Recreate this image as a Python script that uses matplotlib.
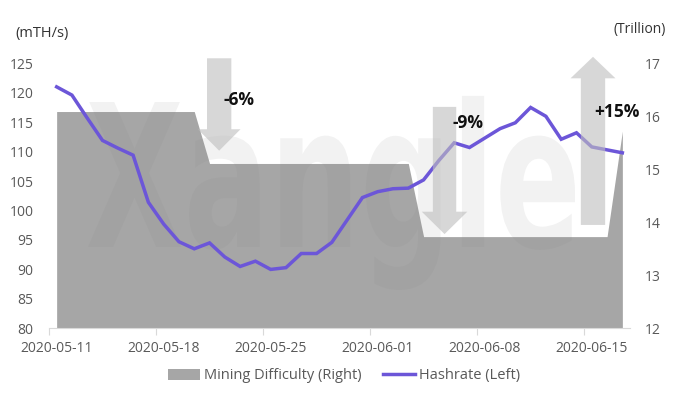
import matplotlib
matplotlib.use('Agg')
import matplotlib.pyplot as plt
from matplotlib.patches import Polygon, PathPatch, Patch
from matplotlib.lines import Line2D
from matplotlib.textpath import TextPath
from matplotlib.font_manager import FontProperties
from matplotlib.transforms import Affine2D, IdentityTransform

# Datos (lecturas del gráfico)
etiquetas_fecha = ['2020-05-11', '2020-05-18', '2020-05-25', '2020-06-01', '2020-06-08', '2020-06-15']
hashrate = [121.0, 119.6, 115.7, 111.9, 110.6, 109.4, 101.4, 97.7, 94.7, 93.5,
            94.5, 92.1, 90.5, 91.4, 90.0, 90.3, 92.7, 92.7, 94.6, 98.4,
            102.2, 103.2, 103.7, 103.8, 105.2, 108.5, 111.5, 110.7, 112.3, 113.9,
            114.9, 117.5, 116.0, 112.1, 113.2, 110.8, 110.3, 109.8]
dificultad = [16.09, 16.09, 16.09, 16.09, 16.09, 16.09, 16.09, 16.09, 16.09, 16.09,
              15.11, 15.11, 15.11, 15.11, 15.11, 15.11, 15.11, 15.11, 15.11, 15.11,
              15.11, 15.11, 15.11, 15.11, 13.73, 13.73, 13.73, 13.73, 13.73, 13.73,
              13.73, 13.73, 13.73, 13.73, 13.73, 13.73, 13.73, 15.72]
ticks_izq = [80, 85, 90, 95, 100, 105, 110, 115, 120, 125]
ticks_der = [12, 13, 14, 15, 16, 17]

gris_texto = '#595959'
morado = '#6c56d8'
gris_area = '#a6a6a6'
fuente = 'Open Sans'

plt.rcParams['font.family'] = [fuente, 'DejaVu Sans']

fig = plt.figure(figsize=(6.8, 3.94), dpi=100)
ax = fig.add_axes([49 / 680, 1 - 328.3 / 394, (630 - 49) / 680, (328.3 - 63.3) / 394])
ax2 = ax.twinx()

x = [i + 0.5 for i in range(len(hashrate))]

# Área de dificultad (eje derecho)
ax2.fill_between(x, 12, dificultad, color=gris_area, linewidth=0, zorder=1)
ax2.set_ylim(12, 17)
ax2.set_yticks(ticks_der)

# La línea por encima del área
ax.set_zorder(ax2.get_zorder() + 1)
ax.patch.set_visible(False)

ax.plot(x, hashrate, color=morado, lw=2.5, zorder=5, solid_joinstyle='miter')
ax.set_ylim(80, 125)
ax.set_xlim(0, len(hashrate))
ax.set_yticks(ticks_izq)

# Marca de agua
fp = FontProperties(family='DejaVu Sans', weight='bold')
tp = TextPath((0, 0), 'Xangle', prop=fp, size=100)
cap = TextPath((0, 0), 'X', prop=fp, size=100).get_extents()
ext = tp.get_extents()
sx = (575 - 88) / ext.width
sy = 145 / cap.height
tr = Affine2D().translate(-ext.x0, 0).scale(sx, sy).translate(88, 394 - 247)
marca = PathPatch(tr.transform_path(tp), facecolor='#808080', edgecolor='none',
                  alpha=0.1, transform=IdentityTransform(), zorder=2, clip_on=False)
ax.add_artist(marca)

# Flechas
def flecha(xc, ancho, ancho_cabeza, y_cola, y_base, y_punta):
    pts = [(xc - ancho / 2, y_cola), (xc + ancho / 2, y_cola), (xc + ancho / 2, y_base),
           (xc + ancho_cabeza / 2, y_base), (xc, y_punta), (xc - ancho_cabeza / 2, y_base),
           (xc - ancho / 2, y_base)]
    p = Polygon(pts, closed=True, facecolor='#bfbfbf', edgecolor='none', alpha=0.62,
                zorder=6, clip_on=False)
    ax.add_patch(p)

flecha(11.13, 1.59, 2.79, 125.85, 113.8, 110.16)
flecha(25.87, 1.53, 2.98, 117.6, 99.8, 96.0)
flecha(35.58, 1.59, 2.94, 97.55, 122.45, 126.1)

ax.text(11.43, 118.8, '-6%', fontsize=12.5, fontweight='bold', color='#111111',
        va='center', ha='left', zorder=8)
ax.text(26.41, 114.8, '-9%', fontsize=12.5, fontweight='bold', color='#111111',
        va='center', ha='left', zorder=8)
ax.text(35.66, 116.8, '+15%', fontsize=12.5, fontweight='bold', color='#111111',
        va='center', ha='left', zorder=8, clip_on=False)

# Ejes
for s in ['top', 'left', 'right']:
    ax.spines[s].set_visible(False)
for s in ['top', 'left', 'right', 'bottom']:
    ax2.spines[s].set_visible(False)
ax.spines['bottom'].set_color('#d9d9d9')

ax.set_xticks([0, 7, 14, 21, 28, 35])
ax.set_xticklabels([])
ax.set_xticks([0.5, 7.5, 14.5, 21.5, 28.5, 35.5], minor=True)
ax.set_xticklabels(etiquetas_fecha, minor=True)
ax.tick_params(axis='x', which='major', length=5, color='#d9d9d9')
ax.tick_params(axis='x', which='minor', length=0, pad=9, labelsize=10, labelcolor=gris_texto)
ax.tick_params(axis='y', length=0, pad=11, labelsize=10, labelcolor=gris_texto)
ax2.tick_params(axis='y', length=0, pad=11, labelsize=10, labelcolor=gris_texto)

fig.text(15 / 680, 1 - 33 / 394, '(mTH/s)', fontsize=10.5, color='#333333', va='center', ha='left')
fig.text(614 / 680, 1 - 29.3 / 394, '(Trillion)', fontsize=10, color='#333333', va='center', ha='left')

# Leyenda
h1 = Patch(facecolor=gris_area, edgecolor='none')
h2 = Line2D([], [], color=morado, lw=2.5)
fig.legend([h1, h2], ['Mining Difficulty (Right)', 'Hashrate (Left)'],
           loc='center', bbox_to_anchor=(0.506, 0.046), ncol=2, frameon=False,
           fontsize=10.5, labelcolor=gris_texto, handlelength=2.2, handleheight=0.8,
           handletextpad=0.25, columnspacing=1.5)

fig.savefig('out.png', dpi=100)
